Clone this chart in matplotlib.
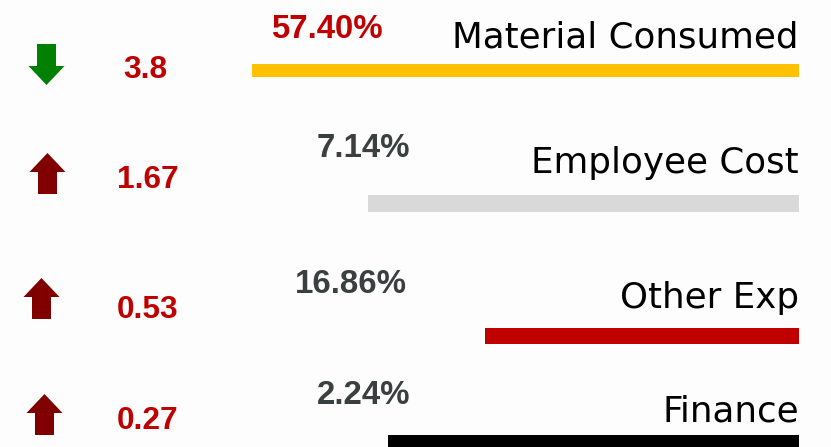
import matplotlib
matplotlib.use("Agg")
import matplotlib.pyplot as plt
from matplotlib.path import Path

# ---- data ----
categories = ["Material Consumed", "Employee Cost", "Other Exp", "Finance"]
share_labels = ["57.40%", "7.14%", "16.86%", "2.24%"]
change_values = [3.8, 1.67, 0.53, 0.27]
change_dirs = ["down", "up", "up", "up"]

# ---- layout / style (pixel coordinates of the 831x447 canvas) ----
W, H = 831, 447
bar_colors = ["#FFC000", "#D9D9D9", "#C00000", "#000000"]
bar_left = [252, 368, 485, 388]
bar_right = 799
bar_yc = [70.5, 203.5, 336, 442]
bar_h = [13, 17, 16, 14]
label_base = [48, 173, 308, 422]
pct_x = [271, 317, 295, 317]
pct_base = [38, 157, 293, 404]
pct_colors = ["#C00000", "#3A3F3F", "#3A3F3F", "#3A3F3F"]
val_x = [145, 148, 147.5, 147.5]
val_base = [78, 188, 318, 429]
arrow_x = [46, 46.5, 41, 44]
arrow_y = [63.5, 173, 298, 414]
arrow_colors = {"down": "#008000", "up": "#800000"}

fig = plt.figure(figsize=(W / 100, H / 100), dpi=100)
fig.patch.set_facecolor("#FDFDFD")
ax = fig.add_axes([0, 0, 1, 1])
ax.set_xlim(0, W)
ax.set_ylim(H, 0)
ax.axis("off")

# bars
for i in range(len(categories)):
    ax.barh(bar_yc[i], bar_right - bar_left[i], left=bar_left[i],
            height=bar_h[i], color=bar_colors[i], edgecolor="none")

# category labels
for i, c in enumerate(categories):
    ax.text(bar_right, label_base[i], c, ha="right", va="baseline",
            fontsize=25.7, family="DejaVu Sans", color="#000000")

# percentages
for i, p in enumerate(share_labels):
    ax.text(pct_x[i], pct_base[i], p, ha="left", va="baseline",
            fontsize=23.8, family="Liberation Sans", fontweight="bold",
            color=pct_colors[i])

# change values
for i, v in enumerate(change_values):
    ax.text(val_x[i], val_base[i], f"{v:g}", ha="center", va="baseline",
            fontsize=22.8, family="Liberation Sans", fontweight="bold",
            color="#C00000")

# arrow markers
up_verts = [(-9.5, -20.5), (9.5, -20.5), (9.5, 1.5), (18, 1.5), (0, 20.5),
            (-18, 1.5), (-9.5, 1.5), (-9.5, -20.5)]
up_path = Path(up_verts, closed=True)
down_path = Path([(x, -y) for x, y in up_verts], closed=True)
for i, d in enumerate(change_dirs):
    ax.plot(arrow_x[i], arrow_y[i], marker=up_path if d == "up" else down_path,
            markersize=41 * 0.72, color=arrow_colors[d], markeredgewidth=0,
            linestyle="none")

fig.savefig("out.png", dpi=100, facecolor=fig.get_facecolor())
